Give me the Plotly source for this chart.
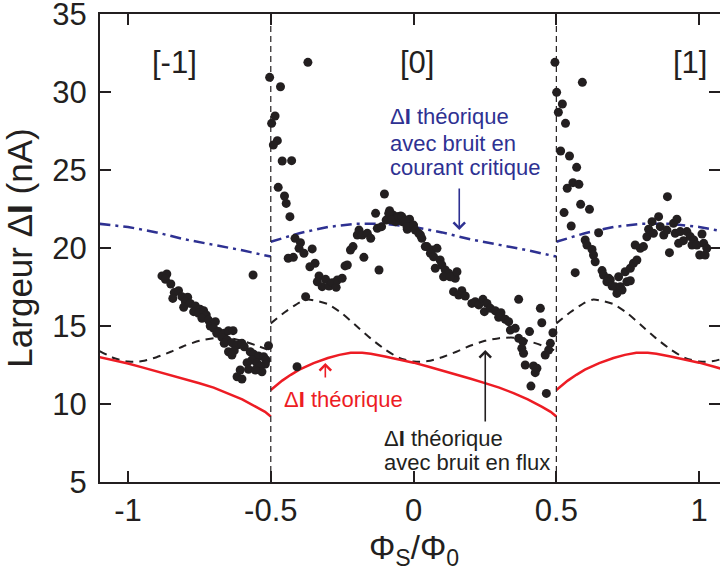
import plotly.graph_objects as go

# ---------------- data ----------------
# measured widths, branch [-1]
seg_m1_x = [-0.881, -0.864, -0.869, -0.850, -0.838, -0.823, -0.843, -0.811, -0.791, -0.799,
            -0.805, -0.782, -0.764, -0.770, -0.747, -0.753, -0.735, -0.726, -0.741, -0.718,
            -0.712, -0.694, -0.700, -0.683, -0.689, -0.663, -0.648, -0.632, -0.671, -0.653,
            -0.663, -0.636, -0.618, -0.601, -0.593, -0.572, -0.560, -0.543, -0.525, -0.516,
            -0.648, -0.628, -0.636, -0.566, -0.548, -0.519, -0.583, -0.537, -0.578, -0.607,
            -0.618, -0.601, -0.531, -0.554, -0.562, -0.508]
seg_m1_y = [18.21, 18.33, 17.99, 17.69, 17.14, 17.26, 16.77, 16.88, 16.84, 16.56,
            16.20, 16.45, 16.28, 15.92, 16.07, 15.81, 15.98, 15.71, 15.49, 15.38,
            15.00, 15.28, 14.85, 14.64, 14.53, 14.53, 14.70, 14.70, 14.27, 14.10,
            13.89, 13.93, 13.78, 13.89, 13.67, 13.35, 13.20, 13.08, 13.03, 12.82,
            13.35, 13.42, 13.14, 12.82, 12.61, 12.56, 12.65, 12.44, 12.22, 12.18,
            11.75, 11.60, 12.07, 12.18, 18.27, 13.74]

# measured widths, branch [0]
seg0_x = [-0.370, -0.504, -0.466, -0.485, -0.497, -0.477, -0.491, -0.460, -0.427, -0.474,
          -0.452, -0.446, -0.433, -0.415, -0.396, -0.401, -0.384, -0.355, -0.439, -0.421,
          -0.345, -0.363, -0.331, -0.308, -0.337, -0.320, -0.296, -0.285, -0.271, -0.267,
          -0.250, -0.240, -0.232, -0.378, -0.221, -0.212, -0.197, -0.191, -0.180, -0.162,
          -0.150, -0.174, -0.121, -0.133, -0.127, -0.112, -0.102, -0.096, -0.084, -0.072,
          -0.057, -0.045, -0.063, -0.040, -0.022, -0.010, -0.087, -0.076, -0.052, -0.035,
          -0.014, -0.408,
          -0.041, -0.029, -0.023, 0.000, 0.006, 0.018, 0.029, 0.041, 0.064, 0.082,
          0.059, 0.070, 0.093, 0.099, 0.076, 0.111, 0.123, 0.134, 0.105, 0.146,
          0.140, 0.169, 0.158, 0.181, 0.024, 0.047, 0.128, 0.152,
          0.204, 0.216, 0.228, 0.243, 0.257, 0.248, 0.269, 0.286, 0.306, 0.298,
          0.321, 0.333, 0.339, 0.356, 0.368, 0.368, 0.383, 0.379, 0.385, 0.406,
          0.391, 0.420, 0.432, 0.426, 0.444, 0.449, 0.461, 0.473, 0.479, 0.488,
          0.411, 0.465]
seg0_y = [31.90, 30.94, 30.34, 28.46, 27.99, 26.88, 26.60, 25.58, 25.60, 23.89,
          23.33, 22.86, 22.01, 20.62, 20.34, 19.98, 19.66, 19.94, 19.34, 19.40,
          19.02, 18.80, 18.21, 17.99, 17.84, 17.52, 17.56, 17.78, 17.48, 17.95,
          18.06, 18.85, 18.91, 16.88, 19.87, 20.09, 20.83, 21.15, 20.83, 20.94,
          20.62, 19.40, 18.59, 22.22, 21.26, 21.37, 23.46, 21.79, 22.39, 22.12,
          22.01, 22.05, 21.69, 21.69, 21.20, 21.37, 22.22, 21.79, 22.01, 21.79,
          21.84, 12.39,
          22.01, 21.79, 21.37, 21.47, 21.15, 20.94, 20.62, 20.09, 19.87, 19.98,
          19.66, 19.44, 19.23, 18.91, 18.70, 18.59, 18.38, 18.16, 18.16, 18.06,
          17.20, 17.26, 16.99, 16.92, 20.83, 20.09, 18.16, 18.48,
          16.45, 16.56, 16.35, 16.71, 16.45, 15.92, 16.13, 15.98, 15.85, 15.56,
          15.43, 15.28, 14.74, 14.85, 16.71, 14.21, 14.00, 13.57, 13.25, 14.64,
          12.50, 12.44, 12.29, 12.01, 16.13, 15.21, 13.14, 13.46, 13.89, 14.57,
          11.15, 10.68]

# measured widths, branch [1]
seg1_x = [0.495, 0.591, 0.501, 0.521, 0.507, 0.532, 0.515, 0.546, 0.571, 0.558,
          0.579, 0.538, 0.585, 0.616, 0.527, 0.552, 0.566, 0.648, 0.601, 0.607,
          0.625, 0.630, 0.636, 0.660, 0.665, 0.683, 0.689, 0.677, 0.695, 0.706,
          0.718, 0.724, 0.730, 0.712, 0.747, 0.759, 0.741, 0.759, 0.770, 0.782,
          0.794, 0.805, 0.776, 0.817, 0.823, 0.835, 0.858, 0.840, 0.864, 0.876,
          0.887, 0.889, 0.896, 0.910, 0.922, 0.916, 0.934, 0.928, 0.945, 0.957,
          0.969, 0.981, 0.975, 0.992, 1.010, 1.016, 1.002, 1.021, 1.027]
seg1_y = [31.90, 30.62, 29.98, 29.23, 28.70, 27.99, 26.22, 25.90, 25.17, 24.19,
          24.08, 23.83, 22.80, 22.48, 22.27, 21.41, 18.42, 20.98, 20.51, 20.19,
          19.91, 19.55, 19.12, 18.55, 18.27, 18.06, 17.95, 17.84, 17.56, 17.52,
          18.16, 17.52, 17.31, 17.09, 17.84, 17.90, 18.48, 18.70, 19.02, 19.23,
          19.98, 20.09, 20.19, 20.72, 21.20, 21.69, 22.01, 20.94, 21.37, 20.83,
          21.15, 23.29, 19.70, 21.58, 21.84, 20.94, 21.05, 20.30, 20.47, 21.05,
          20.73, 20.51, 20.19, 20.19, 20.90, 20.30, 19.55, 19.55, 19.98]

# theory: Delta I (red)
red_x = [-1.1, -1.05, -1.0, -0.95, -0.9, -0.85, -0.8, -0.75, -0.7, -0.65, -0.6, -0.55, -0.52, -0.5, None,
         -0.5, -0.48, -0.46, -0.43, -0.4, -0.35, -0.3, -0.26, -0.22, -0.18, -0.15, -0.1, -0.05,
         0.0, 0.05, 0.1, 0.15, 0.2, 0.25, 0.3, 0.35, 0.4, 0.45, 0.48, 0.5, None,
         0.5, 0.52, 0.54, 0.57, 0.6, 0.65, 0.7, 0.74, 0.78, 0.82, 0.85, 0.9, 0.95, 1.0, 1.05, 1.1]
red_y = [13.0, 12.8, 12.6, 12.35, 12.1, 11.85, 11.6, 11.33, 11.05, 10.7, 10.3, 9.8, 9.5, 9.2, None,
         10.9, 11.22, 11.5, 11.87, 12.2, 12.62, 12.95, 13.15, 13.28, 13.29, 13.22, 13.05, 12.86,
         12.65, 12.4, 12.15, 11.88, 11.62, 11.34, 11.05, 10.7, 10.3, 9.82, 9.5, 9.2, None,
         10.9, 11.22, 11.5, 11.87, 12.2, 12.62, 12.95, 13.15, 13.28, 13.29, 13.22, 13.05, 12.86,
         12.65, 12.4, 12.15]

# theory with flux noise (black dashed)
flux_x = [-1.1, -1.05, -1.0, -0.95, -0.9, -0.85, -0.8, -0.75, -0.7, -0.65, -0.6, -0.55, -0.5, None,
          -0.5, -0.45, -0.4, -0.37, -0.3, -0.25, -0.2, -0.15, -0.1, -0.05, 0.0, 0.05, 0.1, 0.15,
          0.2, 0.25, 0.3, 0.35, 0.4, 0.45, 0.5, None,
          0.5, 0.55, 0.6, 0.63, 0.7, 0.75, 0.8, 0.85, 0.9, 0.95, 1.0, 1.05, 1.1]
flux_y = [13.4, 12.95, 12.72, 12.75, 13.0, 13.35, 13.75, 14.05, 14.22, 14.25, 14.05, 13.75, 13.4, None,
          15.17, 15.9, 16.5, 16.7, 16.4, 15.8, 15.0, 14.2, 13.5, 12.95, 12.72, 12.75, 13.0, 13.35,
          13.75, 14.05, 14.22, 14.25, 14.05, 13.75, 13.4, None,
          15.17, 15.9, 16.5, 16.7, 16.4, 15.8, 15.0, 14.2, 13.5, 12.95, 12.72, 12.75, 13.0]

# theory with critical-current noise (blue dash-dot)
crit_x = [-1.1, -1.0, -0.9, -0.8, -0.7, -0.6, -0.5, None,
          -0.5, -0.45, -0.4, -0.3, -0.2, -0.1, 0.0, 0.1, 0.2, 0.3, 0.4, 0.5, None,
          0.5, 0.55, 0.6, 0.7, 0.8, 0.9, 1.0, 1.1]
crit_y = [21.55, 21.35, 21.0, 20.55, 20.2, 19.85, 19.45, None,
          20.4, 20.7, 20.95, 21.35, 21.55, 21.55, 21.35, 21.0, 20.55, 20.2, 19.85, 19.45, None,
          20.4, 20.7, 20.95, 21.35, 21.55, 21.55, 21.35, 21.0]

boundaries = [-0.5, 0.5]
branch_labels = ["[-1]", "[0]", "[1]"]
branch_label_x = [-0.838, 0.013, 0.967]

x_ticks = [-1, -0.5, 0, 0.5, 1]
x_ticktext = ["-1", "-0.5", "0", "0.5", "1"]
y_ticks = [5, 10, 15, 20, 25, 30, 35]

# ---------------- figure ----------------
INK = "#231F20"
BLUE = "#2E3192"
RED = "#ED1C24"
FONT = "Liberation Sans, Arial, sans-serif"

fig = go.Figure()

fig.add_trace(go.Scatter(x=crit_x, y=crit_y, mode="lines", connectgaps=False,
                         line=dict(color=BLUE, width=2.5, dash="11px,5px,3px,5px"),
                         showlegend=False, hoverinfo="skip"))
fig.add_trace(go.Scatter(x=flux_x, y=flux_y, mode="lines", connectgaps=False,
                         line=dict(color=INK, width=2, dash="8px,6px", shape="spline", smoothing=0.6),
                         showlegend=False, hoverinfo="skip"))
fig.add_trace(go.Scatter(x=red_x, y=red_y, mode="lines", connectgaps=False,
                         line=dict(color=RED, width=2.5),
                         showlegend=False, hoverinfo="skip"))

all_x = seg_m1_x + seg0_x + seg1_x
all_y = seg_m1_y + seg0_y + seg1_y
fig.add_trace(go.Scatter(x=all_x, y=all_y, mode="markers",
                         marker=dict(color=INK, size=9, line=dict(width=0)),
                         showlegend=False))

# dummy trace to carry the mirrored right-hand ticks
fig.add_trace(go.Scatter(x=[None], y=[None], yaxis="y2", showlegend=False, hoverinfo="skip"))

for b in boundaries:
    fig.add_vline(x=b, line=dict(color=INK, width=1.2, dash="6px,4px"))

for lab, lx in zip(branch_labels, branch_label_x):
    fig.add_annotation(x=lx, y=31.9, text=lab, showarrow=False,
                       font=dict(size=31, color=INK, family=FONT))

# blue annotation
for txt, yy in zip(["Δ<b>I</b> théorique", "avec bruit en", "courant critique"], [28.40, 26.73, 25.13]):
    fig.add_annotation(x=-0.089, y=yy, text=txt, showarrow=False, xanchor="left",
                       font=dict(size=22, color=BLUE, family=FONT))
fig.add_annotation(x=0.16, y=21.15, ax=0.16, ay=23.91, axref="x", ayref="y", text="",
                   showarrow=True, arrowhead=4, arrowsize=1.4, arrowwidth=1.6, arrowcolor=BLUE)

# red annotation
fig.add_annotation(x=-0.461, y=10.26, text="Δ<b>I</b> théorique", showarrow=False, xanchor="left",
                   font=dict(size=22, color=RED, family=FONT))
fig.add_annotation(x=-0.309, y=12.63, ax=-0.309, ay=11.60, axref="x", ayref="y", text="",
                   showarrow=True, arrowhead=4, arrowsize=1.4, arrowwidth=1.6, arrowcolor=RED)

# black annotation
for txt, yy in zip(["Δ<b>I</b> théorique", "avec bruit en flux"], [7.82, 6.28]):
    fig.add_annotation(x=-0.11, y=yy, text=txt, showarrow=False, xanchor="left",
                       font=dict(size=22, color=INK, family=FONT))
fig.add_annotation(x=0.251, y=13.46, ax=0.251, ay=8.78, axref="x", ayref="y", text="",
                   showarrow=True, arrowhead=4, arrowsize=1.4, arrowwidth=1.6, arrowcolor=INK)

# x-axis title
fig.add_annotation(x=0, xref="x", y=-0.146, yref="paper", yanchor="middle",
                   text="Φ<sub>S</sub>/Φ<sub>0</sub>", showarrow=False,
                   font=dict(size=33, color=INK, family=FONT))

fig.update_layout(
    width=720, height=576,
    margin=dict(l=100, r=0, t=14, b=94, autoexpand=False),
    paper_bgcolor="white", plot_bgcolor="white",
    font=dict(family=FONT, color=INK),
    showlegend=False,
    xaxis=dict(range=[-1.098, 1.073], tickvals=x_ticks, ticktext=x_ticktext,
               ticks="inside", ticklen=11, tickwidth=1.5, tickcolor=INK,
               showline=True, linewidth=2, linecolor=INK, mirror="ticks",
               showgrid=False, zeroline=False, automargin=False, ticklabeloverflow="allow",
               tickfont=dict(size=31, color=INK, family=FONT)),
    yaxis=dict(range=[5, 35], tickvals=y_ticks,
               ticks="inside", ticklen=11, tickwidth=1.5, tickcolor=INK,
               showline=True, linewidth=2, linecolor=INK,
               showgrid=False, zeroline=False, automargin=False, ticklabeloverflow="allow",
               tickfont=dict(size=31, color=INK, family=FONT), ticklabelstandoff=5,
               title=dict(text="Largeur Δ<b>I</b> (nA)", font=dict(size=35, color=INK, family=FONT),
                          standoff=13)),
    yaxis2=dict(range=[5, 35], tickvals=y_ticks, overlaying="y", side="right",
                ticks="inside", ticklen=11, tickwidth=1.5, tickcolor=INK, automargin=False,
                showticklabels=False, showline=False, showgrid=False, zeroline=False),
)

# remove the default 8px page margin so the 720x576 figure fills the window exactly
fig.write_html("out.html",
               config={"displayModeBar": False},
               post_script="document.body.style.margin='0';document.body.style.padding='0';")
